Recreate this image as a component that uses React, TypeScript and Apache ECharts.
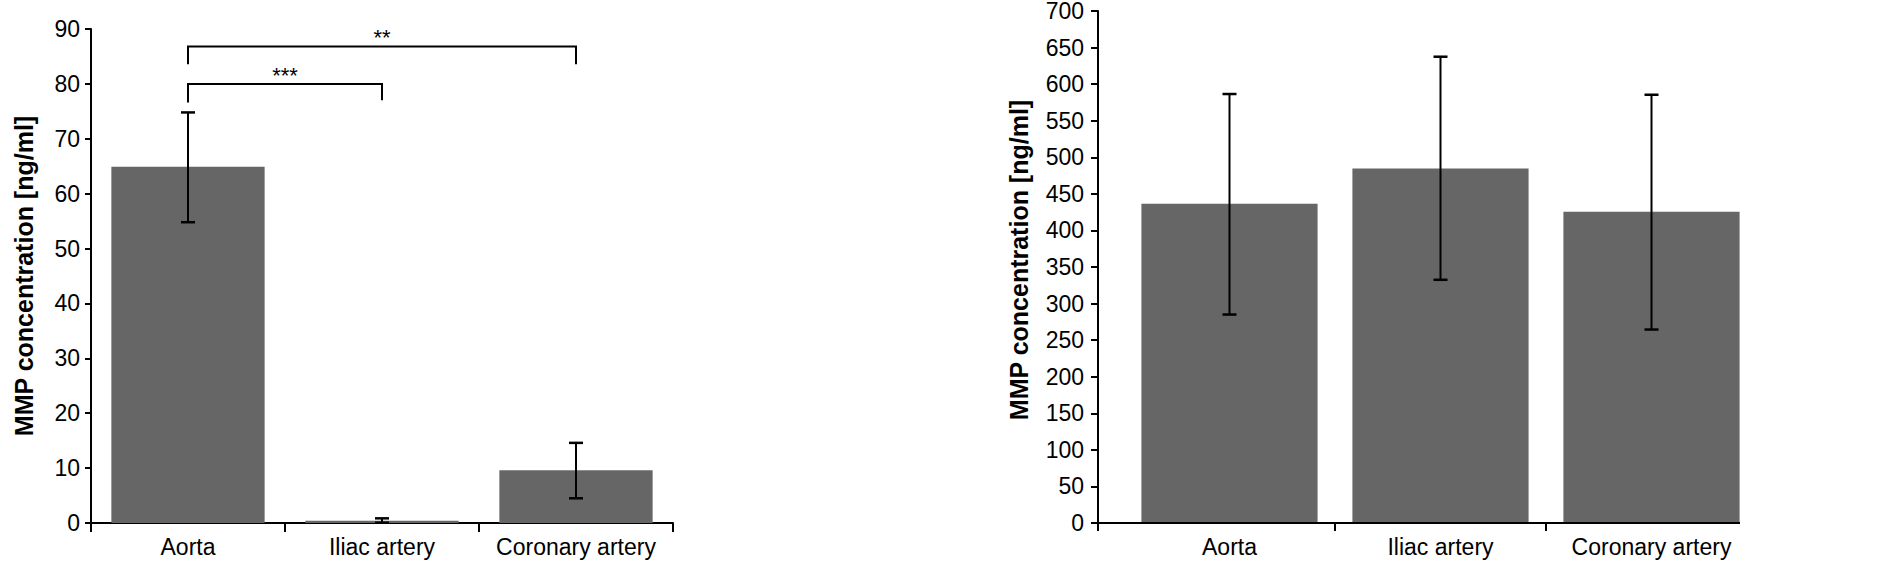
import React, { useEffect, useRef } from 'react';
import * as echarts from 'echarts';

const categories = ['Aorta', 'Iliac artery', 'Coronary artery'];

// Left panel
const leftMeans = [64.9, 0.4, 9.6];
const leftLow = [54.8, 0.05, 4.5];
const leftHigh = [74.8, 0.85, 14.6];
const leftAxis = { min: 0, max: 90, interval: 10 };

// Significance brackets (left panel)
const bracketFrom = [0, 0];
const bracketTo = [1, 2];
const bracketTop = [80.0, 86.8];
const bracketLegLeft = [76.6, 83.6];
const bracketLegRight = [77.0, 83.6];
const bracketTextY = [81.9, 88.8];
const bracketText = ['***', '**'];

// Right panel
const rightMeans = [436.6, 484.8, 425.6];
const rightLow = [285, 332.5, 264.5];
const rightHigh = [586.5, 637.5, 585.5];
const rightAxis = { min: 0, max: 700, interval: 50 };

const yName = 'MMP concentration [ng/ml]';

const FONT = '"Liberation Sans", Arial, Helvetica, sans-serif';
const BAR = '#666666';

const L = { left: 91, top: 29, width: 582, height: 494 };
const R = { left: 1124, top: 11, width: 633, height: 512 };
const R_AXIS_X = 1098;
const R_LINE_END = 1740;

function errRender(params: any, api: any) {
  const x = api.value(0);
  const lo = api.coord([x, api.value(1)]);
  const hi = api.coord([x, api.value(2)]);
  const hw = 7;
  const st = { stroke: '#000', lineWidth: 2 };
  return {
    type: 'group',
    children: [
      { type: 'line', shape: { x1: hi[0], y1: hi[1], x2: lo[0], y2: lo[1] }, style: st },
      { type: 'line', shape: { x1: hi[0] - hw, y1: hi[1], x2: hi[0] + hw, y2: hi[1] }, style: { stroke: '#000', lineWidth: 2.5 } },
      { type: 'line', shape: { x1: lo[0] - hw, y1: lo[1], x2: lo[0] + hw, y2: lo[1] }, style: { stroke: '#000', lineWidth: 2.5 } },
    ],
  };
}

function bracketRender(params: any, api: any) {
  const i = params.dataIndex;
  const a = api.coord([api.value(0), api.value(2)]);
  const b = api.coord([api.value(1), api.value(2)]);
  const la = api.coord([api.value(0), api.value(3)]);
  const lb = api.coord([api.value(1), api.value(4)]);
  const ty = api.coord([api.value(0), api.value(5)])[1];
  return {
    type: 'group',
    children: [
      {
        type: 'polyline',
        shape: { points: [la, a, b, lb] },
        style: { stroke: '#000', lineWidth: 2, fill: 'none' },
      },
      {
        type: 'text',
        x: (a[0] + b[0]) / 2,
        y: ty + 2,
        style: {
          text: bracketText[i],
          fontSize: 22,
          fontFamily: FONT,
          fill: '#000',
          align: 'center',
          verticalAlign: 'middle',
        },
      },
    ],
  };
}

export default function App() {
  const ref = useRef<HTMLDivElement>(null);

  useEffect(() => {
    if (!ref.current) return;
    const chart = echarts.init(ref.current, null, { renderer: 'svg' });

    const axisLabelY = (margin: number) => ({
      color: '#000',
      fontSize: 23,
      fontFamily: FONT,
      margin,
    });

    const tickLines = [R.left + R.width / 3, R.left + (2 * R.width) / 3];

    const option: any = {
      animation: false,
      backgroundColor: '#ffffff',
      grid: [
        { ...L, containLabel: false, outerBoundsMode: 'none' },
        { ...R, containLabel: false, outerBoundsMode: 'none' },
      ],
      xAxis: [
        {
          type: 'category',
          gridIndex: 0,
          data: categories,
          boundaryGap: true,
          axisLine: { show: true, lineStyle: { color: '#000', width: 2 } },
          axisTick: { show: true, length: 9, interval: 0, lineStyle: { color: '#000', width: 2 } },
          axisLabel: { color: '#000', fontSize: 23, fontFamily: FONT, margin: 12, interval: 0 },
          splitLine: { show: false },
        },
        {
          type: 'category',
          gridIndex: 1,
          data: categories,
          boundaryGap: true,
          axisLine: { show: false },
          axisTick: { show: false },
          axisLabel: { color: '#000', fontSize: 23, fontFamily: FONT, margin: 12, interval: 0 },
          splitLine: { show: false },
        },
      ],
      yAxis: [
        {
          type: 'value',
          gridIndex: 0,
          min: leftAxis.min,
          max: leftAxis.max,
          interval: leftAxis.interval,
          name: yName,
          nameLocation: 'middle',
          nameGap: 55,
          nameTextStyle: { color: '#000', fontSize: 25, fontWeight: 'bold', fontFamily: FONT },
          axisLine: { show: true, lineStyle: { color: '#000', width: 2 } },
          axisTick: { show: true, length: 6, lineStyle: { color: '#000', width: 2 } },
          axisLabel: axisLabelY(11),
          splitLine: { show: false },
        },
        {
          type: 'value',
          gridIndex: 1,
          min: rightAxis.min,
          max: rightAxis.max,
          interval: rightAxis.interval,
          offset: R.left - R_AXIS_X,
          name: yName,
          nameLocation: 'middle',
          nameGap: 67,
          nameTextStyle: {
            color: '#000',
            fontSize: 25,
            fontWeight: 'bold',
            fontFamily: FONT,
            padding: [0, 0, 0, 14],
          },
          axisLine: { show: true, lineStyle: { color: '#000', width: 2 } },
          axisTick: { show: true, length: 7, lineStyle: { color: '#000', width: 2 } },
          axisLabel: axisLabelY(14),
          splitLine: { show: false },
        },
      ],
      series: [
        {
          type: 'bar',
          xAxisIndex: 0,
          yAxisIndex: 0,
          data: leftMeans,
          barWidth: '79%',
          itemStyle: { color: BAR },
          z: 2,
        },
        {
          type: 'custom',
          xAxisIndex: 0,
          yAxisIndex: 0,
          renderItem: errRender,
          encode: { x: 0, y: [1, 2] },
          data: categories.map((_, i) => [i, leftLow[i], leftHigh[i]]),
          z: 5,
          clip: false,
        },
        {
          type: 'custom',
          xAxisIndex: 0,
          yAxisIndex: 0,
          renderItem: bracketRender,
          encode: { x: [0, 1], y: [2, 3, 4, 5] },
          data: bracketFrom.map((f, i) => [
            f,
            bracketTo[i],
            bracketTop[i],
            bracketLegLeft[i],
            bracketLegRight[i],
            bracketTextY[i],
          ]),
          z: 6,
          clip: false,
        },
        {
          type: 'bar',
          xAxisIndex: 1,
          yAxisIndex: 1,
          data: rightMeans,
          barWidth: '83.5%',
          itemStyle: { color: BAR },
          z: 2,
        },
        {
          type: 'custom',
          xAxisIndex: 1,
          yAxisIndex: 1,
          renderItem: errRender,
          encode: { x: 0, y: [1, 2] },
          data: categories.map((_, i) => [i, rightLow[i], rightHigh[i]]),
          z: 5,
          clip: false,
        },
      ],
      graphic: [
        {
          type: 'line',
          z: 10,
          shape: { x1: R_AXIS_X, y1: R.top + R.height, x2: R_LINE_END, y2: R.top + R.height },
          style: { stroke: '#000', lineWidth: 2 },
        },
        {
          type: 'line',
          z: 10,
          shape: { x1: R_AXIS_X, y1: R.top + R.height, x2: R_AXIS_X, y2: R.top + R.height + 8 },
          style: { stroke: '#000', lineWidth: 2 },
        },
        ...tickLines.map((tx) => ({
          type: 'line',
          z: 10,
          shape: { x1: tx, y1: R.top + R.height, x2: tx, y2: R.top + R.height + 8 },
          style: { stroke: '#000', lineWidth: 2 },
        })),
      ],
    };

    chart.setOption(option);
    return () => chart.dispose();
  }, []);

  return (
    <div
      ref={ref}
      style={{ position: 'fixed', left: 0, top: 0, width: 1884, height: 565, background: '#fff' }}
    />
  );
}
